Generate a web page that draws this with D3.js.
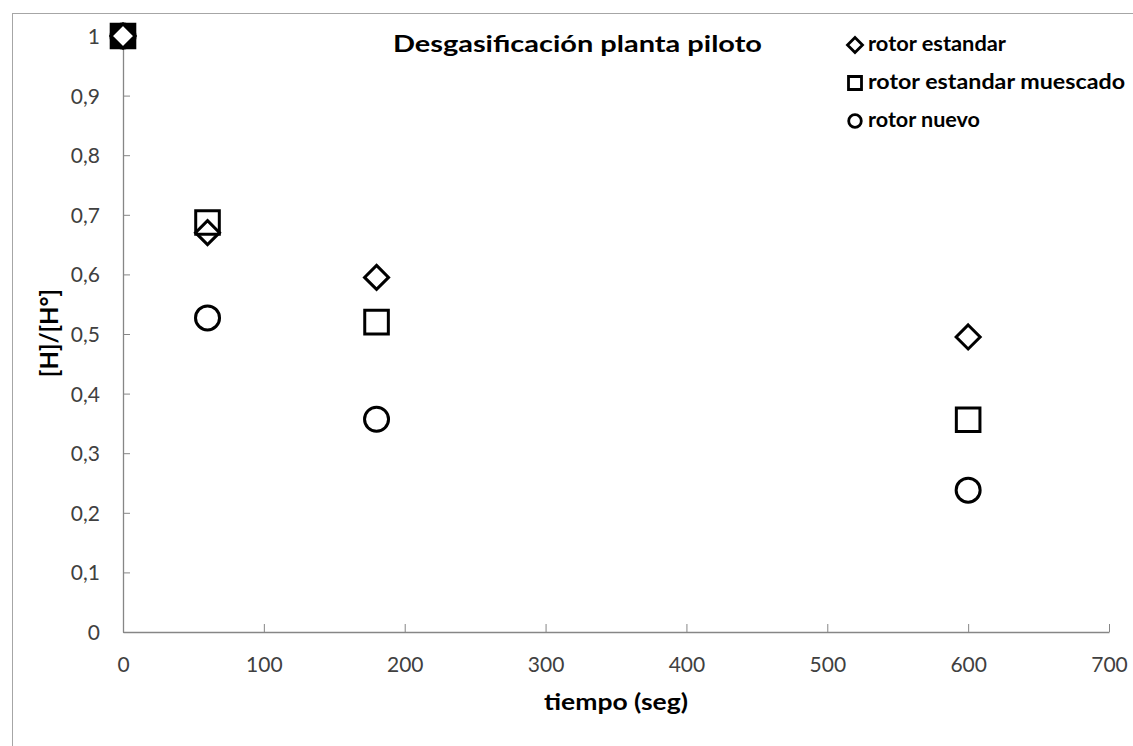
<!DOCTYPE html>
<html>
<head>
<meta charset="utf-8">
<script src="https://cdn.jsdelivr.net/npm/d3@7"></script>
<style>
  html, body { margin: 0; padding: 0; background: #fff; }
  svg { display: block; }
  text { font-family: Lato, "Open Sans", sans-serif; }
</style>
</head>
<body>
<svg id="chart" width="1133" height="746"></svg>
<script>
// Degassing trials: relative hydrogen content vs. time, three rotor designs
const chartTitle = "Desgasificación planta piloto";
const xTitle = "tiempo (seg)";
const yTitle = "[H]/[H°]";

const seriesNames = ["rotor estandar", "rotor estandar muescado", "rotor nuevo"];
const seriesShapes = ["diamond", "square", "circle"];

const timeEstandar = [0, 60, 180, 600];
const valEstandar = [1, 0.67, 0.595, 0.495];

const timeMuescado = [0, 60, 180, 600];
const valMuescado = [1, 0.687, 0.52, 0.356];

const timeNuevo = [0, 60, 180, 600];
const valNuevo = [1, 0.527, 0.357, 0.238];

const xTicks = [0, 100, 200, 300, 400, 500, 600, 700];
const yTicks = [0, 0.1, 0.2, 0.3, 0.4, 0.5, 0.6, 0.7, 0.8, 0.9, 1];

const series = [
  { name: seriesNames[0], shape: seriesShapes[0], pts: timeEstandar.map((t, i) => ({ t, v: valEstandar[i] })) },
  { name: seriesNames[1], shape: seriesShapes[1], pts: timeMuescado.map((t, i) => ({ t, v: valMuescado[i] })) },
  { name: seriesNames[2], shape: seriesShapes[2], pts: timeNuevo.map((t, i) => ({ t, v: valNuevo[i] })) }
];

const svg = d3.select("#chart");
const W = 1133, H = 746;
const plot = { left: 123, right: 1109, top: 36, bottom: 632 };

// outer chart frame (extends past the right/bottom edges of the view)
svg.append("rect")
  .attr("x", 12.5).attr("y", 13.5)
  .attr("width", W + 20).attr("height", H + 20)
  .attr("fill", "none").attr("stroke", "#a6a6a6").attr("stroke-width", 1);

const x = d3.scaleLinear().domain([0, 700]).range([plot.left, plot.right]);
const y = d3.scaleLinear().domain([0, 1]).range([plot.bottom, plot.top]);

const fmt = v => String(+v.toFixed(1)).replace(".", ",");
const axisColor = "#868686";

// x axis, ticks pointing into the plot
const gx = svg.append("g")
  .attr("transform", `translate(0,${plot.bottom})`)
  .call(d3.axisBottom(x).tickValues(xTicks).tickSizeInner(-8).tickSizeOuter(0).tickFormat(d3.format("d")));
gx.select(".domain").attr("stroke", axisColor).attr("stroke-width", 1.3);
gx.selectAll(".tick line").attr("stroke", axisColor);
gx.selectAll(".tick text")
  .attr("y", 40).attr("dy", 0)
  .attr("fill", "#404040").attr("font-size", 21);

// y axis, ticks pointing into the plot
const gy = svg.append("g")
  .attr("transform", `translate(${plot.left},0)`)
  .call(d3.axisLeft(y).tickValues(yTicks).tickSizeInner(-7).tickSizeOuter(0).tickFormat(fmt));
gy.select(".domain").attr("stroke", axisColor).attr("stroke-width", 1.3);
gy.selectAll(".tick line").attr("stroke", axisColor);
gy.selectAll(".tick text")
  .attr("x", -23).attr("dy", "0.36em")
  .attr("fill", "#404040").attr("font-size", 21);

// marker paths
function shapePath(shape, s) {
  if (shape === "diamond") return `M0,${-s}L${s},0L0,${s}L${-s},0Z`;
  if (shape === "square") return `M${-s},${-s}H${s}V${s}H${-s}Z`;
  return null;
}
function drawMarker(g, shape, cx, cy, s, sw, fill) {
  if (shape === "circle") {
    return g.append("circle").attr("cx", cx).attr("cy", cy).attr("r", s)
      .attr("fill", fill).attr("stroke", "#000").attr("stroke-width", sw);
  }
  return g.append("path").attr("transform", `translate(${cx},${cy})`)
    .attr("d", shapePath(shape, s))
    .attr("fill", fill).attr("stroke", "#000").attr("stroke-width", sw);
}
const markerSize = { diamond: 12, square: 11.8, circle: 12 };

// points where every series share the same value are drawn as one solid block
const shared = new Set();
series[0].pts.forEach((p, i) => {
  if (series.every(s => s.pts[i] && s.pts[i].t === p.t && s.pts[i].v === p.v)) shared.add(i);
});

const gm = svg.append("g");
// draw in reverse so the diamonds end up on top
[...series].reverse().forEach(s => {
  s.pts.forEach((p, i) => {
    const fill = shared.has(i) ? (s.shape === "diamond" ? "#fff" : "#000") : "none";
    drawMarker(gm, s.shape, x(p.t), y(p.v), markerSize[s.shape], 3, fill);
  });
});

// bold label stretched to a given width
function boldText(g, str, xPos, yPos, size, width, anchor) {
  return g.append("text")
    .attr("x", xPos).attr("y", yPos)
    .attr("text-anchor", anchor || "start")
    .attr("font-weight", "bold").attr("font-size", size).attr("fill", "#000")
    .attr("textLength", width).attr("lengthAdjust", "spacingAndGlyphs")
    .text(str);
}

// title
boldText(svg, chartTitle, 393, 52, 23, 369);

// legend
const lg = svg.append("g");
const legendWidths = [138, 257, 112];
series.forEach((s, i) => {
  const cy = 45 + i * 38;
  drawMarker(lg, s.shape, 855, cy, s.shape === "circle" ? 6.3 : (s.shape === "diamond" ? 7.5 : 6.5), 2.8, "none");
  boldText(lg, s.name, 868, cy + 6, 20, legendWidths[i]);
});

// axis titles
boldText(svg, xTitle, 544, 710, 23, 144);

svg.append("text")
  .attr("transform", "translate(50,333) rotate(-90)")
  .attr("text-anchor", "middle").attr("dy", "0.33em")
  .attr("font-weight", "bold").attr("font-size", 24).attr("fill", "#000")
  .text(yTitle);
</script>
</body>
</html>
